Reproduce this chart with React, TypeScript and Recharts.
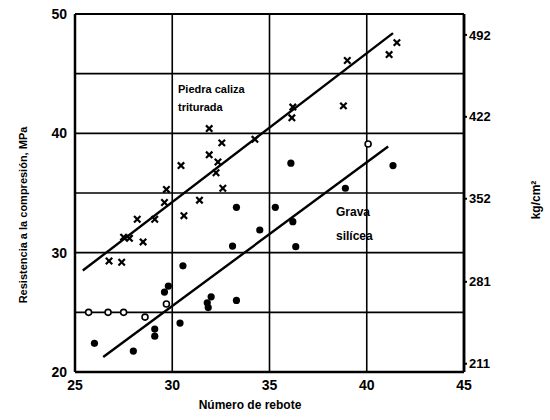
import { ScatterChart, Scatter, XAxis, YAxis, CartesianGrid, ReferenceLine } from 'recharts'

// Piedra caliza triturada (crosses)
const caliza = [
  { x: 26.75, y: 29.3 }, { x: 27.4, y: 29.2 }, { x: 27.5, y: 31.3 }, { x: 27.8, y: 31.2 },
  { x: 28.2, y: 32.8 }, { x: 28.5, y: 30.9 }, { x: 29.1, y: 32.8 }, { x: 29.6, y: 34.2 },
  { x: 29.7, y: 35.3 }, { x: 30.6, y: 33.1 }, { x: 31.4, y: 34.4 }, { x: 30.45, y: 37.3 },
  { x: 31.9, y: 40.4 }, { x: 31.9, y: 38.2 }, { x: 32.35, y: 37.6 }, { x: 32.25, y: 36.7 },
  { x: 32.55, y: 39.2 }, { x: 32.6, y: 35.4 }, { x: 34.25, y: 39.5 }, { x: 36.2, y: 42.2 },
  { x: 36.15, y: 41.3 }, { x: 38.8, y: 42.3 }, { x: 39.0, y: 46.1 }, { x: 41.15, y: 46.6 },
  { x: 41.55, y: 47.6 },
]

// Grava silícea (filled dots)
const grava = [
  { x: 26.0, y: 22.4 }, { x: 28.0, y: 21.75 }, { x: 29.1, y: 23.0 }, { x: 29.1, y: 23.6 },
  { x: 30.4, y: 24.1 }, { x: 30.55, y: 28.9 }, { x: 29.6, y: 26.7 }, { x: 29.8, y: 27.2 },
  { x: 31.8, y: 25.8 }, { x: 32.0, y: 26.3 }, { x: 31.85, y: 25.4 }, { x: 33.3, y: 26.0 },
  { x: 33.1, y: 30.55 }, { x: 34.5, y: 31.9 }, { x: 33.3, y: 33.8 }, { x: 35.3, y: 33.8 },
  { x: 36.1, y: 37.5 }, { x: 41.35, y: 37.3 }, { x: 38.9, y: 35.4 }, { x: 36.2, y: 32.6 },
  { x: 36.35, y: 30.5 },
]

// open circles
const gravaOpen = [
  { x: 25.7, y: 25.0 }, { x: 26.7, y: 25.0 }, { x: 27.5, y: 25.0 }, { x: 28.6, y: 24.6 },
  { x: 29.7, y: 25.7 }, { x: 40.07, y: 39.1 },
]

// fitted lines
const calizaFit = [{ x: 25.4, y: 28.5 }, { x: 41.35, y: 48.4 }]
const gravaFit = [{ x: 26.45, y: 21.25 }, { x: 41.1, y: 38.9 }]

const xTicks = [25, 30, 35, 40, 45]
const yTicks = [20, 25, 30, 35, 40, 45, 50]
const kgTicks = [211, 281, 352, 422, 492]
const MPA_TO_KG = 10.197

// invisible anchor so the kg/cm² axis gets drawn
const kgAnchor = kgTicks.map(k => ({ x: 25, y: k }))

const FONT = '"Liberation Sans", Arial, sans-serif'

const Cross = (p: any) => {
  const { cx, cy } = p
  const s = 3.2
  return (
    <g stroke="#000" strokeWidth={2.2}>
      <line x1={cx - s} y1={cy - s} x2={cx + s} y2={cy + s} />
      <line x1={cx - s} y1={cy + s} x2={cx + s} y2={cy - s} />
    </g>
  )
}
const Dot = (p: any) => <circle cx={p.cx} cy={p.cy} r={3.6} fill="#000" />
const OpenDot = (p: any) => <circle cx={p.cx} cy={p.cy} r={3} fill="#fff" stroke="#000" strokeWidth={1.6} />
const Nothing = () => <g />

const tickStyle = { fontSize: 14, fontWeight: 700, fill: '#000', fontFamily: FONT }

export default function App() {
  return (
    <div style={{ position: 'absolute', left: 0, top: 0, width: 550, height: 420, background: '#fff', fontFamily: FONT }}>
      <ScatterChart width={550} height={420} margin={{ top: 14, right: 41, bottom: 23, left: 35 }}>
        <CartesianGrid yAxisId="left" stroke="#000" strokeWidth={1.6} />
        <XAxis
          type="number" dataKey="x" domain={[25, 45]} ticks={xTicks} height={25}
          tickLine={false} axisLine={{ stroke: '#000', strokeWidth: 2.5 }} tick={tickStyle}
        />
        <YAxis
          yAxisId="left" type="number" dataKey="y" domain={[20, 50]} ticks={yTicks} width={40}
          tickFormatter={(v: number) => (v % 10 === 0 ? String(v) : '')}
          tickLine={false} axisLine={{ stroke: '#000', strokeWidth: 2.5 }} tick={tickStyle}
        />
        <YAxis
          yAxisId="right" orientation="right" type="number" dataKey="y" allowDataOverflow
          domain={[20 * MPA_TO_KG, 50 * MPA_TO_KG]} ticks={kgTicks} width={45} tickSize={3}
          tickLine={{ stroke: '#000', strokeWidth: 2 }} axisLine={{ stroke: '#000', strokeWidth: 2.5 }}
          tick={{ ...tickStyle, fontSize: 13 }}
        />
        <ReferenceLine yAxisId="left" y={50} stroke="#000" strokeWidth={2} />
        <ReferenceLine yAxisId="left" x={45} stroke="#000" strokeWidth={2.5} />
        <ReferenceLine yAxisId="left" segment={calizaFit} stroke="#000" strokeWidth={2.4} />
        <ReferenceLine yAxisId="left" segment={gravaFit} stroke="#000" strokeWidth={2.4} />
        <Scatter yAxisId="right" data={kgAnchor} shape={Nothing} isAnimationActive={false} />
        <Scatter yAxisId="left" data={caliza} shape={Cross} isAnimationActive={false} />
        <Scatter yAxisId="left" data={grava} shape={Dot} isAnimationActive={false} />
        <Scatter yAxisId="left" data={gravaOpen} shape={OpenDot} isAnimationActive={false} />
      </ScatterChart>

      <div style={{ position: 'absolute', left: 178, top: 80, fontSize: 11, fontWeight: 700, lineHeight: '18px' }}>
        Piedra caliza<br />triturada
      </div>
      <div style={{ position: 'absolute', left: 336, top: 200, fontSize: 12, fontWeight: 700, lineHeight: '24px' }}>
        Grava<br />silícea
      </div>
      <div style={{
        position: 'absolute', left: 23, top: 215, transform: 'translate(-50%, -50%) rotate(-90deg)',
        whiteSpace: 'nowrap', fontSize: 11, fontWeight: 700,
      }}>
        Resistencia a la compresión, MPa
      </div>
      <div style={{
        position: 'absolute', left: 536, top: 200, transform: 'translate(-50%, -50%) rotate(-90deg)',
        whiteSpace: 'nowrap', fontSize: 12, fontWeight: 700,
      }}>
        kg/cm²
      </div>
      <div style={{
        position: 'absolute', left: 250, top: 405, transform: 'translate(-50%, -50%)',
        whiteSpace: 'nowrap', fontSize: 12, fontWeight: 700,
      }}>
        Número de rebote
      </div>
    </div>
  )
}
